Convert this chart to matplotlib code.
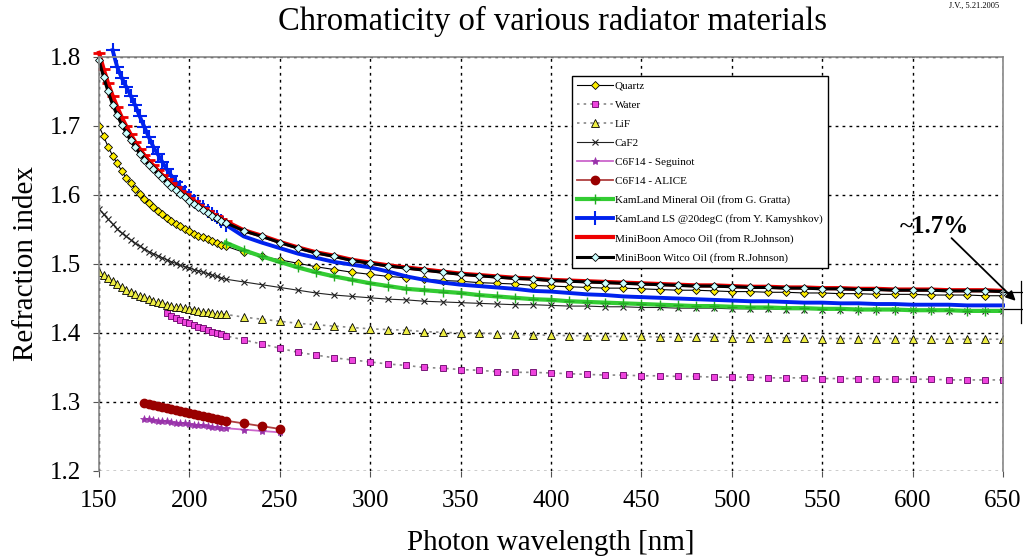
import matplotlib
matplotlib.use("Agg")
import matplotlib.pyplot as plt

plt.rcParams['font.family'] = ['Liberation Serif', 'DejaVu Serif']

# ---------------- data ----------------
WL_DENSE = [150, 152.5, 155, 157.5, 160, 162.5, 165, 167.5, 170, 172.5, 175, 177.5,
            180, 182.5, 185, 187.5, 190, 192.5, 195, 197.5, 200, 202.5, 205, 207.5,
            210, 212.5, 215, 217.5, 220]
WL_COARSE = [230, 240, 250, 260, 270, 280, 290, 300, 310, 320, 330, 340, 350, 360,
             370, 380, 390, 400, 410, 420, 430, 440, 450, 460, 470, 480, 490, 500,
             510, 520, 530, 540, 550, 560, 570, 580, 590, 600, 610, 620, 630, 640, 650]

quartz_dense = [1.700, 1.685, 1.670, 1.657, 1.646, 1.635, 1.625, 1.617, 1.609, 1.601,
                1.594, 1.588, 1.582, 1.577, 1.572, 1.567, 1.562, 1.558, 1.555, 1.551,
                1.548, 1.544, 1.541, 1.539, 1.536, 1.533, 1.531, 1.528, 1.526]
quartz_coarse = [1.517, 1.511, 1.506, 1.501, 1.496, 1.492, 1.488, 1.485, 1.482, 1.480,
                 1.478, 1.476, 1.475, 1.473, 1.472, 1.471, 1.469, 1.468, 1.467, 1.466,
                 1.465, 1.465, 1.464, 1.463, 1.462, 1.462, 1.461, 1.460, 1.460, 1.459,
                 1.459, 1.458, 1.458, 1.457, 1.457, 1.456, 1.456, 1.456, 1.455, 1.455,
                 1.455, 1.454, 1.454]

water_dense = [1.429, 1.425, 1.422, 1.419, 1.416, 1.414, 1.411, 1.409, 1.407, 1.404,
               1.402, 1.400, 1.398, 1.396]            # 187.5 .. 220
water_coarse = [1.390, 1.384, 1.378, 1.372, 1.368, 1.364, 1.361, 1.358, 1.355, 1.353,
                1.350, 1.349, 1.347, 1.346, 1.344, 1.343, 1.343, 1.342, 1.341, 1.340,
                1.339, 1.339, 1.338, 1.338, 1.337, 1.337, 1.336, 1.336, 1.336, 1.335,
                1.335, 1.335, 1.334, 1.334, 1.334, 1.333, 1.333, 1.333, 1.333, 1.332,
                1.332, 1.332, 1.332]

lif_dense = [1.488, 1.484, 1.479, 1.475, 1.471, 1.467, 1.463, 1.460, 1.457, 1.454,
             1.452, 1.449, 1.447, 1.445, 1.443, 1.441, 1.439, 1.438, 1.437, 1.436,
             1.435, 1.434, 1.432, 1.431, 1.430, 1.429, 1.428, 1.428, 1.427]
lif_coarse = [1.423, 1.420, 1.417, 1.414, 1.412, 1.410, 1.408, 1.406, 1.405, 1.404,
              1.402, 1.401, 1.400, 1.400, 1.399, 1.398, 1.397, 1.397, 1.396, 1.396,
              1.395, 1.395, 1.395, 1.394, 1.394, 1.394, 1.394, 1.393, 1.393, 1.393,
              1.393, 1.393, 1.392, 1.392, 1.392, 1.392, 1.392, 1.392, 1.391, 1.391,
              1.391, 1.391, 1.391]

caf2_dense = [1.580, 1.572, 1.565, 1.558, 1.551, 1.545, 1.540, 1.535, 1.530, 1.526,
              1.522, 1.518, 1.515, 1.512, 1.509, 1.506, 1.503, 1.501, 1.498, 1.496,
              1.494, 1.492, 1.490, 1.488, 1.486, 1.484, 1.482, 1.480, 1.478]
caf2_coarse = [1.474, 1.470, 1.466, 1.462, 1.458, 1.455, 1.453, 1.451, 1.449, 1.448,
               1.446, 1.445, 1.444, 1.443, 1.442, 1.441, 1.441, 1.440, 1.439, 1.439,
               1.438, 1.438, 1.437, 1.437, 1.436, 1.436, 1.436, 1.435, 1.435, 1.435,
               1.434, 1.434, 1.434, 1.434, 1.433, 1.433, 1.433, 1.433, 1.433, 1.432,
               1.432, 1.432, 1.432]

seguinot_dense = [1.276, 1.275, 1.274, 1.273, 1.273, 1.272, 1.271, 1.270, 1.270, 1.269,
                  1.268, 1.267, 1.267, 1.266, 1.265, 1.264, 1.264, 1.263, 1.262]   # 175 .. 220
seguinot_coarse = [1.260, 1.258, 1.256]                                             # 230 .. 250

alice_dense = [1.299, 1.297, 1.296, 1.294, 1.293, 1.291, 1.290, 1.288, 1.287, 1.285,
               1.284, 1.283, 1.281, 1.280, 1.278, 1.277, 1.276, 1.274, 1.273]
alice_coarse = [1.269, 1.265, 1.261]

kamland_mo = [1.531, 1.520, 1.511, 1.503, 1.495, 1.488, 1.482, 1.477, 1.472, 1.468,
              1.464, 1.462, 1.460, 1.458, 1.455, 1.453, 1.451, 1.449, 1.448, 1.446,
              1.445, 1.444, 1.443, 1.442, 1.441, 1.440, 1.439, 1.439, 1.438, 1.437,
              1.437, 1.436, 1.436, 1.435, 1.435, 1.434, 1.434, 1.434, 1.433, 1.433,
              1.433, 1.432, 1.432, 1.432]                                 # 220 .. 650

kamland_ls_dense = [1.810, 1.786, 1.770, 1.757, 1.744, 1.730, 1.714, 1.699, 1.684, 1.670,
                    1.659, 1.648, 1.637, 1.628, 1.619, 1.611, 1.604, 1.598, 1.592, 1.587,
                    1.582, 1.577, 1.573, 1.568, 1.563, 1.557]            # 157.5 .. 220
kamland_ls_coarse = [1.540, 1.531, 1.523, 1.515, 1.509, 1.503, 1.499, 1.495, 1.489, 1.482,
                     1.477, 1.473, 1.470, 1.468, 1.466, 1.464, 1.461, 1.460, 1.458, 1.456,
                     1.455, 1.453, 1.452, 1.451, 1.450, 1.449, 1.448, 1.447, 1.446, 1.446,
                     1.445, 1.444, 1.444, 1.443, 1.443, 1.442, 1.442, 1.441, 1.441, 1.441,
                     1.440, 1.440, 1.440]

amoco_dense = [1.806, 1.783, 1.762, 1.744, 1.728, 1.713, 1.700, 1.688, 1.677, 1.667,
               1.658, 1.650, 1.643, 1.636, 1.629, 1.623, 1.617, 1.611, 1.606, 1.601,
               1.596, 1.591, 1.586, 1.581, 1.577, 1.573, 1.569, 1.565, 1.562]
amoco_coarse = [1.549, 1.541, 1.532, 1.524, 1.517, 1.512, 1.506, 1.502, 1.498, 1.495,
                1.492, 1.489, 1.486, 1.484, 1.482, 1.480, 1.479, 1.477, 1.476, 1.475,
                1.474, 1.473, 1.472, 1.471, 1.470, 1.469, 1.469, 1.468, 1.467, 1.467,
                1.466, 1.466, 1.465, 1.465, 1.464, 1.464, 1.463, 1.463, 1.463, 1.462,
                1.462, 1.462, 1.461]

witco_dense = [1.795, 1.771, 1.750, 1.731, 1.716, 1.702, 1.690, 1.679, 1.669, 1.660,
               1.651, 1.643, 1.637, 1.630, 1.624, 1.618, 1.612, 1.607, 1.602, 1.597,
               1.592, 1.587, 1.582, 1.578, 1.574, 1.570, 1.566, 1.563, 1.560]
witco_coarse = [1.548, 1.540, 1.531, 1.523, 1.516, 1.511, 1.505, 1.501, 1.497, 1.494,
                1.491, 1.488, 1.485, 1.483, 1.481, 1.479, 1.478, 1.476, 1.475, 1.474,
                1.473, 1.472, 1.471, 1.470, 1.469, 1.468, 1.468, 1.467, 1.466, 1.466,
                1.465, 1.465, 1.464, 1.464, 1.463, 1.463, 1.462, 1.462, 1.462, 1.461,
                1.461, 1.461, 1.460]

labels = ["Quartz", "Water", "LiF", "CaF2", "C6F14 - Seguinot", "C6F14 - ALICE",
          "KamLand Mineral Oil (from G. Gratta)", "KamLand LS @20degC (from Y. Kamyshkov)",
          "MiniBoon Amoco Oil (from R.Johnson)", "MiniBoon Witco Oil (from R.Johnson)"]

x_ticks = [150, 200, 250, 300, 350, 400, 450, 500, 550, 600, 650]
y_ticks = [1.2, 1.3, 1.4, 1.5, 1.6, 1.7, 1.8]

# ---------------- figure ----------------
fig = plt.figure(figsize=(10.23, 5.57), dpi=100)
ax = fig.add_axes([0.0968, 0.1544, 0.8837, 0.7433])

ax.plot(WL_DENSE + WL_COARSE, quartz_dense + quartz_coarse, color='black', lw=0.8,
        marker='D', ms=4.3, mfc='#ffee00', mec='black', mew=0.6, label=labels[0])
ax.plot(WL_DENSE[15:] + WL_COARSE, water_dense + water_coarse, color='#888888', lw=1.2,
        ls=(0, (1.5, 2.5)), marker='s', ms=5, mfc='#ee44dd', mec='#660066', mew=0.6,
        label=labels[1])
ax.plot(WL_DENSE + WL_COARSE, lif_dense + lif_coarse, color='#888888', lw=1.2,
        ls=(0, (1.5, 2.5)), marker='^', ms=5.5, mfc='#eeee44', mec='black', mew=0.6,
        label=labels[2])
ax.plot(WL_DENSE + WL_COARSE, caf2_dense + caf2_coarse, color='#222222', lw=0.8,
        marker='x', ms=5, mec='#222222', mew=0.8, label=labels[3])
ax.plot(WL_DENSE[10:] + WL_COARSE[:3], seguinot_dense + seguinot_coarse, color='#cc66cc',
        lw=1.3, marker='*', ms=6, mfc='#9933aa', mec='#9933aa', mew=0.5, label=labels[4])
ax.plot(WL_DENSE[10:] + WL_COARSE[:3], alice_dense + alice_coarse, color='#b04040',
        lw=1.3, marker='o', ms=6, mfc='#990000', mec='#990000', label=labels[5])
ax.plot(WL_DENSE[-1:] + WL_COARSE, kamland_mo, color='#33cc33', lw=3,
        marker='+', ms=7, mec='#22aa22', mew=1, label=labels[6])
ax.plot(WL_DENSE[3:] + WL_COARSE, kamland_ls_dense + kamland_ls_coarse, color='#0022ee',
        lw=2.8, marker='+', ms=10, mew=1.5, markevery=list(range(len(kamland_ls_dense))),
        label=labels[7], clip_on=False)
ax.plot(WL_DENSE + WL_COARSE, amoco_dense + amoco_coarse, color='#ee0000', lw=3,
        marker='_', ms=8, mew=2, markevery=list(range(len(amoco_dense))),
        label=labels[8], clip_on=False)
ax.plot(WL_DENSE + WL_COARSE, witco_dense + witco_coarse, color='black', lw=2.2,
        marker='D', ms=4, mfc='#ccffff', mec='black', mew=0.6, label=labels[9],
        clip_on=False)

ax.set_xlim(150, 650)
ax.set_ylim(1.2, 1.8)
ax.set_xticks(x_ticks)
ax.set_yticks(y_ticks)
ax.set_yticklabels([f"{v:.1f}" for v in y_ticks])
ax.tick_params(labelsize=18, length=4, color='#555555')
ax.tick_params(axis='x', pad=10)
ax.tick_params(axis='y', pad=9)
ax.grid(True, color='black', lw=1.0, ls=(0, (2, 3)))
for side in ['left', 'top', 'right']:
    ax.spines[side].set_color('#888888')
    ax.spines[side].set_linewidth(1.2)
ax.spines['bottom'].set_visible(False)

ax.set_xlabel("Photon wavelength [nm]", fontsize=21, labelpad=13)
ax.set_ylabel("Refraction index", fontsize=21, labelpad=8)
fig.text(553 / 1023, 1 - 21 / 557, "Chromaticity of various radiator materials",
         fontsize=23.5, ha='center', va='center')
fig.text(0.977, 0.997, "J.V., 5.21.2005", fontsize=6, ha='right', va='top')

leg = ax.legend(loc='upper left', bbox_to_anchor=(572 / 1023, 1 - 76 / 557),
                bbox_transform=fig.transFigure, borderaxespad=0, fontsize=8.0,
                frameon=True, fancybox=False, edgecolor='black', framealpha=1,
                handlelength=3.2, handletextpad=0.2, labelspacing=0.83,
                borderpad=0.45, markerscale=1.0)
leg.get_frame().set_linewidth(1.0)
leg.set_zorder(10)

# ~1.7% annotation
ax.text(612, 1.555, "~1.7%", fontsize=18, fontweight='bold', ha='center', va='center')
ax.annotate("", xy=(657, 1.4466), xytext=(621.5, 1.5375),
            arrowprops=dict(arrowstyle='-|>', color='black', lw=1.3,
                            mutation_scale=14, shrinkA=0, shrinkB=0),
            annotation_clip=False)
ax.plot([660, 660], [1.4755, 1.415], color='black', lw=0.9, clip_on=False)
ax.plot([649, 661.5], [1.460, 1.460], color='black', lw=0.9, clip_on=False)
ax.plot([649, 661.5], [1.4345, 1.4345], color='black', lw=0.9, clip_on=False)

fig.savefig("out.png", dpi=100)
